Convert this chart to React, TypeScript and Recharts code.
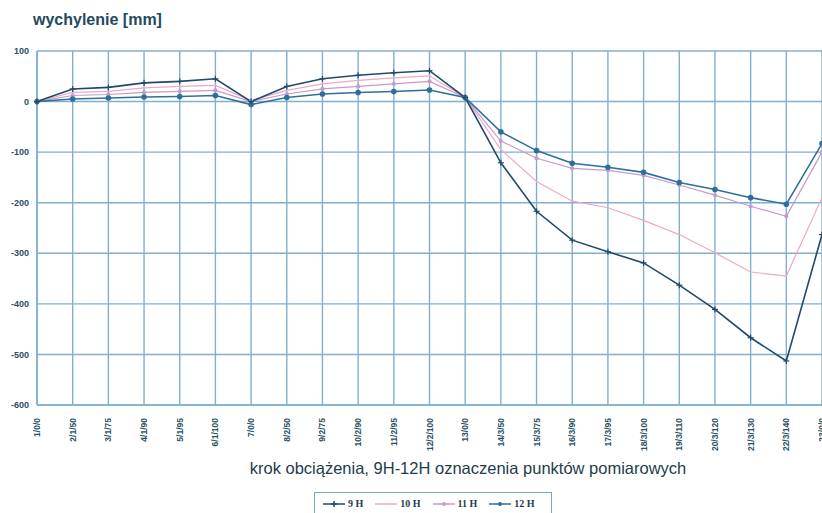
import React from 'react';
import { LineChart, Line, XAxis, YAxis, CartesianGrid } from 'recharts';

const steps = ["1/0/0","2/1/50","3/1/75","4/1/90","5/1/95","6/1/100","7/0/0","8/2/50","9/2/75","10/2/90","11/2/95","12/2/100","13/0/0","14/3/50","15/3/75","16/3/90","17/3/95","18/3/100","19/3/110","20/3/120","21/3/130","22/3/140","23/0/0"];
const h9 = [0,25,28,37,40,45,0,30,45,52,57,61,8,-121,-217,-274,-297,-319,-363,-411,-467,-513,-263];
const h10 = [0,18,20,27,30,32,2,22,35,42,47,51,8,-95,-158,-197,-210,-235,-263,-299,-337,-345,-190];
const h11 = [0,12,14,18,20,22,0,15,25,30,35,40,8,-78,-112,-132,-136,-146,-165,-185,-207,-227,-100];
const h12 = [0,5,7,9,10,12,-6,8,15,18,20,23,8,-60,-97,-122,-130,-140,-160,-174,-190,-203,-83];
const yTicks = [100,0,-100,-200,-300,-400,-500,-600];

const data = steps.map((s, i) => ({ step: s, h9: h9[i], h10: h10[i], h11: h11[i], h12: h12[i] }));

const C9 = '#1f4a6c';
const C10 = '#efa9c2';
const C11 = '#c79ac9';
const C12 = '#2e6f9c';
const GRID = '#7fb0cf';

const XTick = (props: any) => {
  const { x, y, payload } = props;
  return (
    <g transform={`translate(${x},${y})`}>
      <text transform="rotate(-90)" x={-5} dy={3} textAnchor="end" fontSize={8.5} fontFamily="Liberation Sans Narrow, Liberation Sans, Arial, sans-serif" fontWeight={700} fill="#2a4f66">
        {payload.value}
      </text>
    </g>
  );
};

const PlusDot = (props: any) => {
  const { cx, cy } = props;
  if (cx == null || cy == null) return null;
  return (
    <g>
      <line x1={cx - 3} x2={cx + 3} y1={cy} y2={cy} stroke={C9} strokeWidth={1.2} />
      <line x1={cx} x2={cx} y1={cy - 3} y2={cy + 3} stroke={C9} strokeWidth={1.2} />
    </g>
  );
};

const legendItems = [
  { name: '9 H', color: C9, marker: 'plus' },
  { name: '10 H', color: C10, marker: 'none' },
  { name: '11 H', color: C11, marker: 'dot' },
  { name: '12 H', color: C12, marker: 'dot' },
];

export default function App() {
  return (
    <div style={{ position: 'absolute', left: 0, top: 0, width: 822, height: 513, overflow: 'hidden', background: '#fff' }}>
      <div style={{ position: 'absolute', left: 33, top: 11, fontFamily: 'Liberation Sans, Arial, sans-serif', fontSize: 16, fontWeight: 700, color: '#234a5e' }}>
        wychylenie [mm]
      </div>
      <LineChart width={830} height={513} data={data} margin={{ top: 51, right: 8, left: 0, bottom: 48 }}>
        <CartesianGrid stroke={GRID} strokeWidth={1.4} vertical={true} horizontal={true} />
        <XAxis dataKey="step" interval={0} height={60} tick={<XTick />} tickLine={false} axisLine={{ stroke: GRID, strokeWidth: 1.6 }} padding={{ left: 0, right: 0 }} />
        <YAxis domain={[-600, 100]} ticks={yTicks} width={37} interval={0} tickLine={false} axisLine={{ stroke: GRID, strokeWidth: 1.6 }} tick={{ fontSize: 9, fontWeight: 700, fill: '#2a4f66', fontFamily: 'Liberation Sans, Arial, sans-serif' }} />
        <Line dataKey="h10" stroke={C10} strokeWidth={1.2} dot={false} isAnimationActive={false} />
        <Line dataKey="h11" stroke={C11} strokeWidth={1.2} dot={{ r: 1.5, fill: C11, stroke: C11 }} isAnimationActive={false} />
        <Line dataKey="h12" stroke={C12} strokeWidth={1.6} dot={{ r: 2, fill: C12, stroke: C12 }} isAnimationActive={false} />
        <Line dataKey="h9" stroke={C9} strokeWidth={1.6} dot={<PlusDot />} isAnimationActive={false} />
      </LineChart>
      <div style={{ position: 'absolute', left: 0, width: 936, top: 459, textAlign: 'center', fontFamily: 'Liberation Sans, Arial, sans-serif', fontSize: 16.5, color: '#1f3c4c', whiteSpace: 'nowrap' }}>
        krok obciążenia, 9H-12H oznaczenia punktów pomiarowych
      </div>
      <div style={{ position: 'absolute', left: 314, top: 492, width: 238, height: 24, border: '1px solid #7aa9c6', boxSizing: 'border-box', display: 'flex', alignItems: 'flex-start', paddingTop: 5, paddingLeft: 8 }}>
        {legendItems.map((it) => (
          <div key={it.name} style={{ display: 'flex', alignItems: 'center', marginRight: 12 }}>
            <svg width={22} height={10}>
              <line x1={0} x2={22} y1={5} y2={5} stroke={it.color} strokeWidth={1.5} />
              {it.marker === 'plus' && (
                <g>
                  <line x1={8} x2={14} y1={5} y2={5} stroke={it.color} strokeWidth={1.5} />
                  <line x1={11} x2={11} y1={2} y2={8} stroke={it.color} strokeWidth={1.5} />
                </g>
              )}
              {it.marker === 'dot' && <circle cx={11} cy={5} r={2} fill={it.color} />}
            </svg>
            <span style={{ fontFamily: 'Liberation Serif, Times New Roman, serif', fontWeight: 700, fontSize: 10, color: '#1f3c4c', marginLeft: 3 }}>{it.name}</span>
          </div>
        ))}
      </div>
    </div>
  );
}
